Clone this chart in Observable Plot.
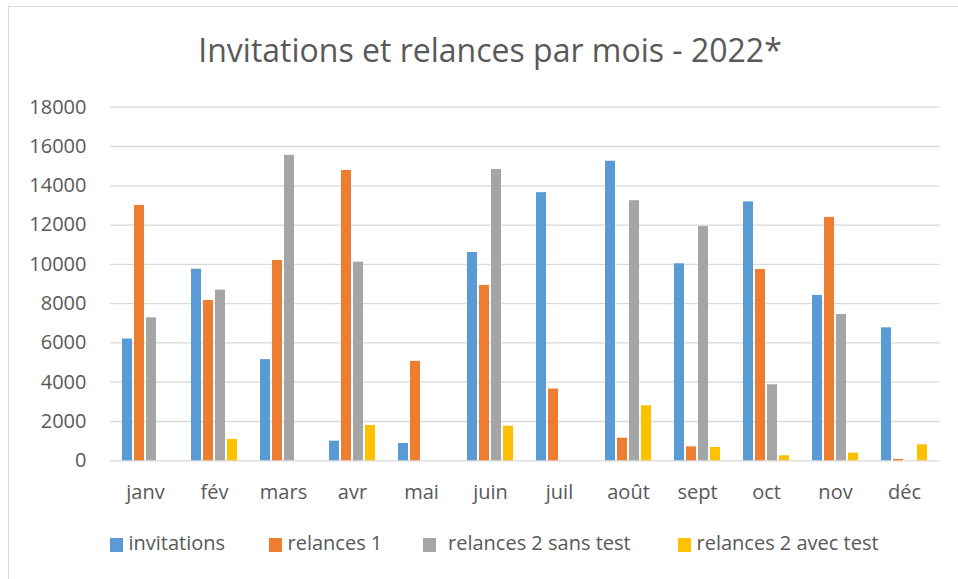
<!DOCTYPE html>
<html>
<head>
<meta charset="utf-8">
<script src="https://cdn.jsdelivr.net/npm/d3@7"></script>
<script src="https://cdn.jsdelivr.net/npm/@observablehq/plot@0.6"></script>
<style>
  html, body { margin: 0; padding: 0; background: #fff; }
  body { width: 958px; height: 579px; overflow: hidden; position: relative; font-family: "Open Sans", sans-serif; color: #595959; }
  #frame { position: absolute; left: 8px; top: 6px; width: 1200px; height: 1200px; border: 1px solid #d9d9d9; box-sizing: border-box; }
  #title { position: absolute; left: 0; top: 34px; width: 980px; text-align: center; font-size: 32px; line-height: 32px; white-space: nowrap; }
  .layer { position: absolute; left: 0; top: 0; }
  .item { position: absolute; top: 533px; font-size: 20px; line-height: 20px; white-space: nowrap; }
  .sw { position: absolute; top: 4.5px; width: 13px; height: 14px; }
</style>
</head>
<body>
<div id="frame"></div>
<div id="title">Invitations et relances par mois - 2022*</div>
<div id="base" class="layer"></div>
<div id="bars" class="layer"></div>
<div id="legend"></div>
<script>
const months = ["janv", "fév", "mars", "avr", "mai", "juin", "juil", "août", "sept", "oct", "nov", "déc"];
const seriesNames = ["invitations", "relances 1", "relances 2 sans test", "relances 2 avec test"];
const seriesColors = ["#5B9BD5", "#ED7D31", "#A5A5A5", "#FFC000"];
const invitations = [6200, 9750, 5150, 1000, 880, 10600, 13650, 15250, 10030, 13180, 8420, 6770];
const relances1 = [13000, 8160, 10200, 14780, 5060, 8930, 3650, 1150, 710, 9740, 12390, 70];
const relances2SansTest = [7280, 8690, 15550, 10110, 0, 14830, 0, 13240, 11930, 3870, 7450, 0];
const relances2AvecTest = [0, 1090, 0, 1800, 0, 1760, 0, 2800, 680, 255, 390, 815];
const yTicks = [0, 2000, 4000, 6000, 8000, 10000, 12000, 14000, 16000, 18000];

const seriesValues = [invitations, relances1, relances2SansTest, relances2AvecTest];
const data = [];
months.forEach((m, i) => {
  seriesNames.forEach((s, j) => data.push({month: m, series: s, value: seriesValues[j][i]}));
});

const W = 958, H = 520;
const common = {
  width: W, height: H,
  marginLeft: 110, marginRight: 18.5, marginTop: 106.7, marginBottom: 59.7,
  style: {fontFamily: "'Open Sans', sans-serif", fontSize: "20px", color: "#595959", background: "transparent", overflow: "visible"}
};

const base = Plot.plot({
  ...common,
  x: {domain: months, axis: null},
  y: {domain: [0, 18000], axis: null},
  marks: [
    Plot.ruleY(yTicks, {stroke: "#d9d9d9", strokeWidth: 1.3}),
    Plot.axisY({ticks: yTicks, tickSize: 0, tickPadding: 24, tickFormat: d => String(d), fill: "#595959"})
  ]
});
document.getElementById("base").appendChild(base);

const bars = Plot.plot({
  ...common,
  fx: {domain: months, paddingInner: 0.3, paddingOuter: 0.15, axis: null, label: null},
  x: {domain: seriesNames, paddingInner: 0.2, paddingOuter: 0, axis: null},
  y: {domain: [0, 18000], axis: null},
  color: {domain: seriesNames, range: seriesColors},
  marks: [
    Plot.barY(data, {fx: "month", x: "series", y: "value", fill: "series"}),
    Plot.axisFx({anchor: "bottom", tickSize: 0, tickPadding: 24, label: null, fill: "#595959"})
  ]
});
document.getElementById("bars").appendChild(bars);

const legendLeft = [109.5, 268.5, 423, 677.5];
const textGap = [6, 6, 12, 6];
const legend = document.getElementById("legend");
seriesNames.forEach((s, j) => {
  const it = document.createElement("div");
  it.className = "item";
  it.style.left = legendLeft[j] + "px";
  const sw = document.createElement("span");
  sw.className = "sw";
  sw.style.background = seriesColors[j];
  sw.style.left = "0px";
  const tx = document.createElement("span");
  tx.textContent = s;
  tx.style.marginLeft = (13 + textGap[j]) + "px";
  it.appendChild(sw);
  it.appendChild(tx);
  legend.appendChild(it);
});
</script>
</body>
</html>
